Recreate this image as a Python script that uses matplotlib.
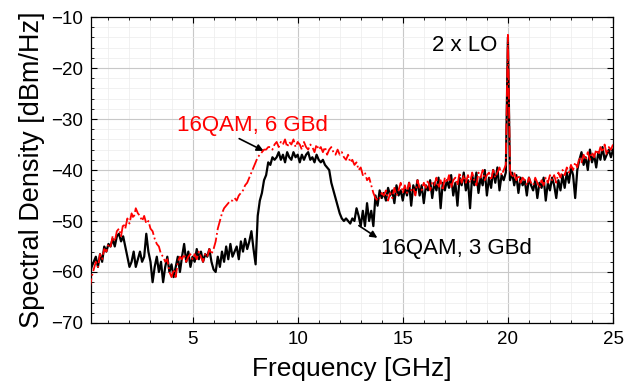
import numpy as np
import matplotlib.pyplot as plt
from matplotlib.ticker import MultipleLocator

plt.rcParams['font.family'] = ['Liberation Sans', 'DejaVu Sans']

# spectrum analyser bins, 0.1 GHz spacing
freq_ghz = np.round(np.arange(1, 251) * 0.1, 1)

# 16QAM, 3 GBd
psd_3gbd = [
    -60.5, -59, -58, -57, -59, -56.5, -58, -55, -56, -54.5,
    -55, -53.5, -55, -53, -52.5, -54, -53, -55, -57, -59,
    -58, -56, -59, -57.5, -56, -58, -57, -52.5, -56, -58,
    -62, -59, -57, -60, -58, -62, -59, -57, -60, -58.5,
    -61, -59, -57, -60, -57, -54.5, -58, -56, -59, -57,
    -58, -55.5, -57.5, -56, -58, -56.5, -57, -55.5, -58, -59.5,
    -60, -57, -59, -56, -58, -55, -57.5, -54.5, -57, -56,
    -55, -57.5, -54, -56, -53.5, -55.5, -54, -52, -55.5, -58.5,
    -49, -46, -44.5, -42, -41, -38.5, -39, -37.5, -38, -37.5,
    -36.5, -38, -37, -38.5, -36.5, -37.5, -38, -36.5, -37.5, -37,
    -38.5, -37, -38, -37, -36.5, -38, -37.5, -38.5, -37, -38,
    -38.5, -38, -39, -39.5, -40, -42.5, -44, -45.5, -47, -48.5,
    -49.5, -50, -49.5, -50, -50.5, -49.5, -50, -47.5, -49, -51,
    -48, -51, -46.5, -50, -48, -51, -45, -47, -44, -45.5,
    -44.5, -46, -43.5, -45, -44, -46.5, -43, -45, -44, -46,
    -43.5, -45, -42.5, -47, -43, -44.5, -42, -45, -43, -46.5,
    -43, -44, -42, -45.5, -42.5, -44, -41.5, -47.5, -42.5, -44,
    -42, -43.5, -41, -45, -42.5, -47, -41.5, -43, -40.5, -44,
    -42, -47.5, -41, -43, -40.5, -44.5, -41.5, -43, -40, -45,
    -41.5, -43.5, -40, -42.5, -39.5, -44, -41, -42, -40.5, -14,
    -42, -40.5, -43, -41, -44.5, -41.5, -43, -42, -45, -41.5,
    -43, -44, -42, -45.5, -42.5, -43.5, -41.5, -46, -42.5, -44,
    -41.5, -43, -45.5, -42, -44, -41, -43.5, -40.5, -42.5, -39.5,
    -41, -45.5, -40, -38, -36.5, -39, -37.5, -40, -36, -38.5,
    -37, -39.5, -36.5, -38, -35.5, -38, -37, -36, -37.5, -36,
]

# 16QAM, 6 GBd
psd_6gbd = [
    -63.5, -61, -59.5, -58, -59, -56.5, -57.5, -55.5, -56, -54.5,
    -55, -53, -54, -52, -51.5, -53, -50.5, -51.5, -49.5, -50.5,
    -48.5, -49.5, -47.5, -48.5, -49, -50, -49, -50.5, -50, -51.5,
    -52, -53.5, -54.5, -55, -56.5, -57, -58, -57.5, -60, -61,
    -59.5, -61, -58, -57, -57.5, -56.5, -58, -57, -56.5, -57.5,
    -56.5, -57.5, -56, -57, -58, -56.5, -57, -55.5, -56.5, -55.5,
    -54, -51.5, -50, -48.5, -47.5, -47, -46.5, -46, -46, -45.5,
    -46, -45, -44.5, -44, -43, -42.5, -41.5, -40.5, -39.5, -38.5,
    -37.5, -37, -36.5, -36, -36, -35.5, -35.5, -36, -35, -34.5,
    -35.5, -34.5, -35, -34, -35.5, -34.5, -35, -34, -35.5, -34.5,
    -35, -36, -34.5, -35.5, -36, -35, -35.5, -36.5, -35, -36,
    -35.5, -36.5, -35.5, -37, -36, -35.5, -36.5, -37, -36, -37,
    -36.5, -37.5, -38, -37, -38.5, -38, -39, -38.5, -40, -39.5,
    -41, -40.5, -42, -41.5, -43, -44.5, -45.5, -46, -45.5, -44.5,
    -45, -44, -46, -44.5, -45.5, -43.5, -45, -44, -42.5, -44.5,
    -43, -44.5, -42.5, -44, -43.5, -45, -42, -43.5, -44, -42.5,
    -43.5, -42, -44, -42.5, -43, -41.5, -43.5, -42, -44, -41.5,
    -42.5, -41, -43.5, -42, -41.5, -43, -40.5, -42.5, -41, -42.5,
    -41, -42.5, -40.5, -42, -43, -40.5, -41.5, -40, -42, -41,
    -40.5, -42, -40, -41.5, -40.5, -39.5, -41, -40, -39, -13.5,
    -40, -41.5, -40.5, -42, -41, -42.5, -41.5, -42, -43, -41.5,
    -42.5, -43, -41.5, -42.5, -43.5, -42, -43, -41.5, -42.5, -41,
    -42, -41, -42.5, -40.5, -41.5, -40, -41, -39.5, -40.5, -39,
    -40, -38.5, -39.5, -37.5, -38.5, -37, -38, -36.5, -38, -36.5,
    -37.5, -36, -37, -35.5, -36.5, -35, -37, -35.5, -36, -35,
]

fig = plt.figure(figsize=(6.35, 3.9), dpi=100)
ax = fig.add_axes([0.1433, 0.1718, 0.8221, 0.7846])

ax.plot(freq_ghz, psd_3gbd, color='black', lw=1.6, zorder=3)
ax.plot(freq_ghz, psd_6gbd, color='red', lw=1.3, ls='-.', zorder=4)

ax.set_xlim(0.17, 25)
ax.set_ylim(-70, -10)
ax.xaxis.set_major_locator(MultipleLocator(5))
ax.xaxis.set_minor_locator(MultipleLocator(1))
ax.yaxis.set_major_locator(MultipleLocator(10))
ax.yaxis.set_minor_locator(MultipleLocator(2))

ax.grid(which='major', color='#c8c8c8', lw=0.8)
ax.grid(which='minor', color='#ececec', lw=0.5)
ax.set_axisbelow(True)
ax.tick_params(which='both', direction='in', top=True, right=True)
ax.tick_params(which='major', length=4, labelsize=13.5, pad=6)
ax.tick_params(which='minor', length=2)
for s in ax.spines.values():
    s.set_linewidth(0.9)

ax.set_xlabel('Frequency [GHz]', fontsize=19, labelpad=6)
ax.set_ylabel('Spectral Density [dBm/Hz]', fontsize=19.5, labelpad=4)

# labels with arrows
ax.text(4.25, -31.2, '16QAM, 6 GBd', color='red', fontsize=16, va='center')
ax.annotate('', xy=(8.5, -36.5), xytext=(7.1, -33.6),
            arrowprops=dict(arrowstyle='-|>', color='black', lw=1.2, mutation_scale=10))
ax.text(13.95, -55.3, '16QAM, 3 GBd', color='black', fontsize=16, va='center')
ax.annotate('', xy=(13.9, -53.6), xytext=(12.8, -50.6),
            arrowprops=dict(arrowstyle='-|>', color='black', lw=1.2, mutation_scale=10))
ax.text(16.4, -15.6, '2 x LO', color='black', fontsize=16, va='center')

fig.savefig('out.png', dpi=100)
